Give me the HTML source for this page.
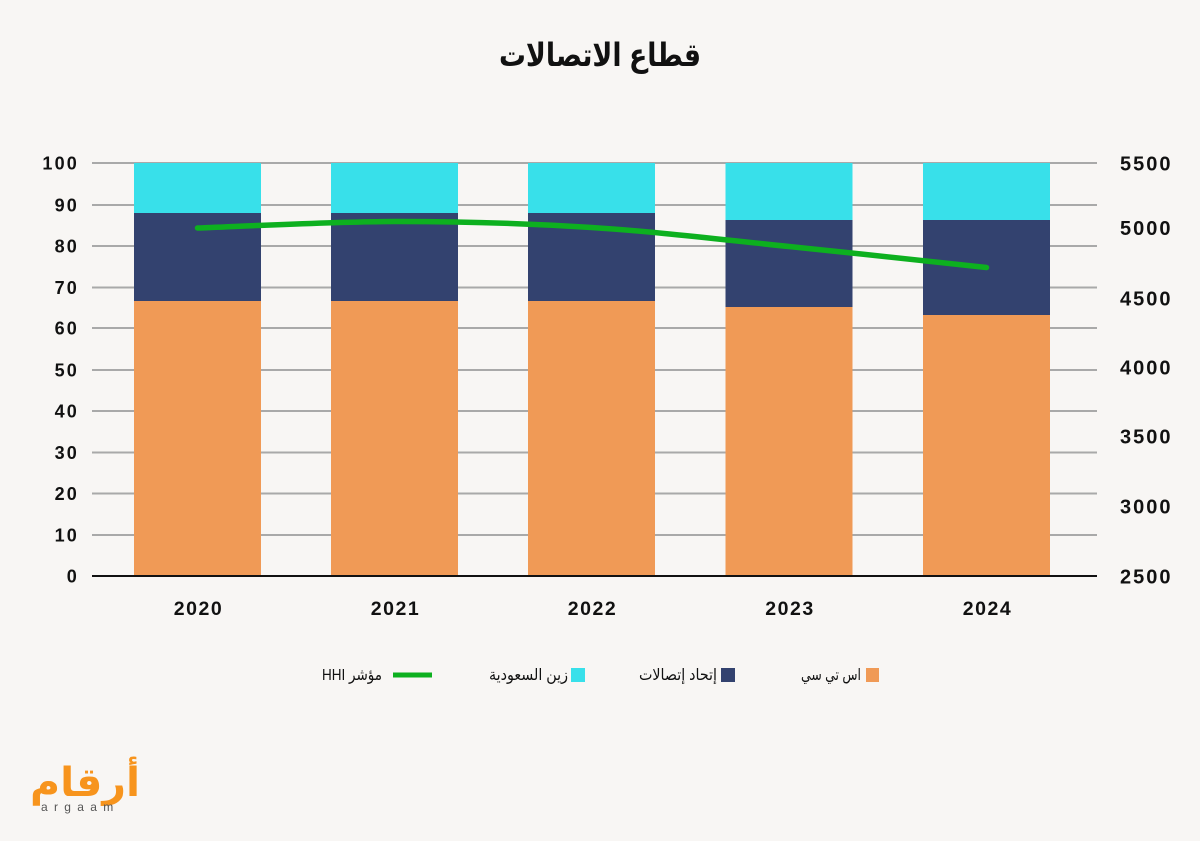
<!DOCTYPE html>
<html>
<head>
<meta charset="utf-8">
<style>
  html,body{margin:0;padding:0;background:#f8f6f4;}
  svg{display:block;}
</style>
</head>
<body>
<svg width="1200" height="841" viewBox="0 0 1200 841" xmlns="http://www.w3.org/2000/svg">
  <rect x="0" y="0" width="1200" height="841" fill="#f8f6f4"/>

  <!-- Title -->
  <text x="600" y="66" text-anchor="middle" font-family="'Liberation Sans','DejaVu Sans',sans-serif" font-weight="bold" font-size="32" fill="#111" textLength="202" lengthAdjust="spacingAndGlyphs">قطاع الاتصالات</text>

  <!-- gridlines -->
  <g stroke="#a9a9a9" stroke-width="2">
    <line x1="92" x2="1097" y1="163" y2="163"/>
    <line x1="92" x2="1097" y1="205" y2="205"/>
    <line x1="92" x2="1097" y1="246" y2="246"/>
    <line x1="92" x2="1097" y1="287.5" y2="287.5"/>
    <line x1="92" x2="1097" y1="328" y2="328"/>
    <line x1="92" x2="1097" y1="370" y2="370"/>
    <line x1="92" x2="1097" y1="411" y2="411"/>
    <line x1="92" x2="1097" y1="452.5" y2="452.5"/>
    <line x1="92" x2="1097" y1="493.5" y2="493.5"/>
    <line x1="92" x2="1097" y1="535" y2="535"/>
  </g>

  <!-- bars -->
  <g>
    <rect x="134" y="163" width="127" height="50" fill="#38e0ea"/>
    <rect x="134" y="213" width="127" height="88" fill="#33426f"/>
    <rect x="134" y="301" width="127" height="275" fill="#f09a56"/>
    <rect x="331" y="163" width="127" height="50" fill="#38e0ea"/>
    <rect x="331" y="213" width="127" height="88" fill="#33426f"/>
    <rect x="331" y="301" width="127" height="275" fill="#f09a56"/>
    <rect x="528" y="163" width="127" height="50" fill="#38e0ea"/>
    <rect x="528" y="213" width="127" height="88" fill="#33426f"/>
    <rect x="528" y="301" width="127" height="275" fill="#f09a56"/>
    <rect x="725.5" y="163" width="127" height="57" fill="#38e0ea"/>
    <rect x="725.5" y="220" width="127" height="87" fill="#33426f"/>
    <rect x="725.5" y="307" width="127" height="269" fill="#f09a56"/>
    <rect x="923" y="163" width="127" height="57" fill="#38e0ea"/>
    <rect x="923" y="220" width="127" height="95" fill="#33426f"/>
    <rect x="923" y="315" width="127" height="261" fill="#f09a56"/>
  </g>

  <!-- baseline -->
  <line x1="92" x2="1097" y1="576" y2="576" stroke="#111" stroke-width="2"/>

  <!-- HHI line -->
  <path d="M197.5,228 C230.3,226.9 328.8,221.6 394.5,221.5 C460.2,221.4 525.75,223.3 591.5,227.5 C657.3,231.7 723.2,239.8 789,246.5 C854.8,253.2 953.6,264 986.5,267.5"
        fill="none" stroke="#0db01f" stroke-width="5.5" stroke-linecap="round" stroke-linejoin="round"/>

  <!-- left axis labels -->
  <g font-family="'Liberation Sans',sans-serif" font-weight="bold" font-size="18" fill="#111" text-anchor="end" letter-spacing="2.2">
    <text x="79" y="169.5">100</text>
    <text x="79" y="211.5">90</text>
    <text x="79" y="252.5">80</text>
    <text x="79" y="294">70</text>
    <text x="79" y="334.5">60</text>
    <text x="79" y="376.5">50</text>
    <text x="79" y="417.5">40</text>
    <text x="79" y="459">30</text>
    <text x="79" y="500">20</text>
    <text x="79" y="541.5">10</text>
    <text x="79" y="582.5">0</text>
  </g>

  <!-- right axis labels -->
  <g font-family="'Liberation Sans',sans-serif" font-weight="bold" font-size="20" fill="#111" text-anchor="start" letter-spacing="2">
    <text x="1120" y="170.3">5500</text>
    <text x="1120" y="235">5000</text>
    <text x="1120" y="305.3">4500</text>
    <text x="1120" y="374.3">4000</text>
    <text x="1120" y="443.3">3500</text>
    <text x="1120" y="513.3">3000</text>
    <text x="1120" y="583.3">2500</text>
  </g>

  <!-- x labels -->
  <g font-family="'Liberation Sans',sans-serif" font-weight="bold" font-size="19.5" fill="#111" text-anchor="middle" letter-spacing="1.5">
    <text x="198.5" y="615">2020</text>
    <text x="395.5" y="615">2021</text>
    <text x="592.5" y="615">2022</text>
    <text x="790" y="615">2023</text>
    <text x="987.5" y="615">2024</text>
  </g>

  <!-- legend -->
  <rect x="866" y="668" width="13" height="14" fill="#f09a56"/>
  <rect x="721" y="668" width="14" height="14" fill="#33426f"/>
  <rect x="571" y="668" width="14" height="14" fill="#38e0ea"/>
  <line x1="393" x2="432" y1="675" y2="675" stroke="#0db01f" stroke-width="5"/>
  <g font-family="'Liberation Sans','DejaVu Sans',sans-serif" font-size="16" fill="#111" text-anchor="middle" lengthAdjust="spacingAndGlyphs">
    <text x="831" y="680" textLength="60" lengthAdjust="spacingAndGlyphs">اس تي سي</text>
    <text x="678" y="680" textLength="78" lengthAdjust="spacingAndGlyphs">إتحاد إتصالات</text>
    <text x="528.5" y="680" textLength="79" lengthAdjust="spacingAndGlyphs">زين السعودية</text>
    <text x="352" y="680" textLength="60" lengthAdjust="spacingAndGlyphs">HHI مؤشر</text>
  </g>

  <!-- logo -->
  <text x="85" y="796" text-anchor="middle" font-family="'DejaVu Sans',sans-serif" font-weight="bold" font-size="40" fill="#f7941d" textLength="110" lengthAdjust="spacingAndGlyphs">أرقام</text>
  <text x="41" y="811" font-family="'Liberation Sans',sans-serif" font-size="12" fill="#555" letter-spacing="6.3">argaam</text>
</svg>
</body>
</html>
